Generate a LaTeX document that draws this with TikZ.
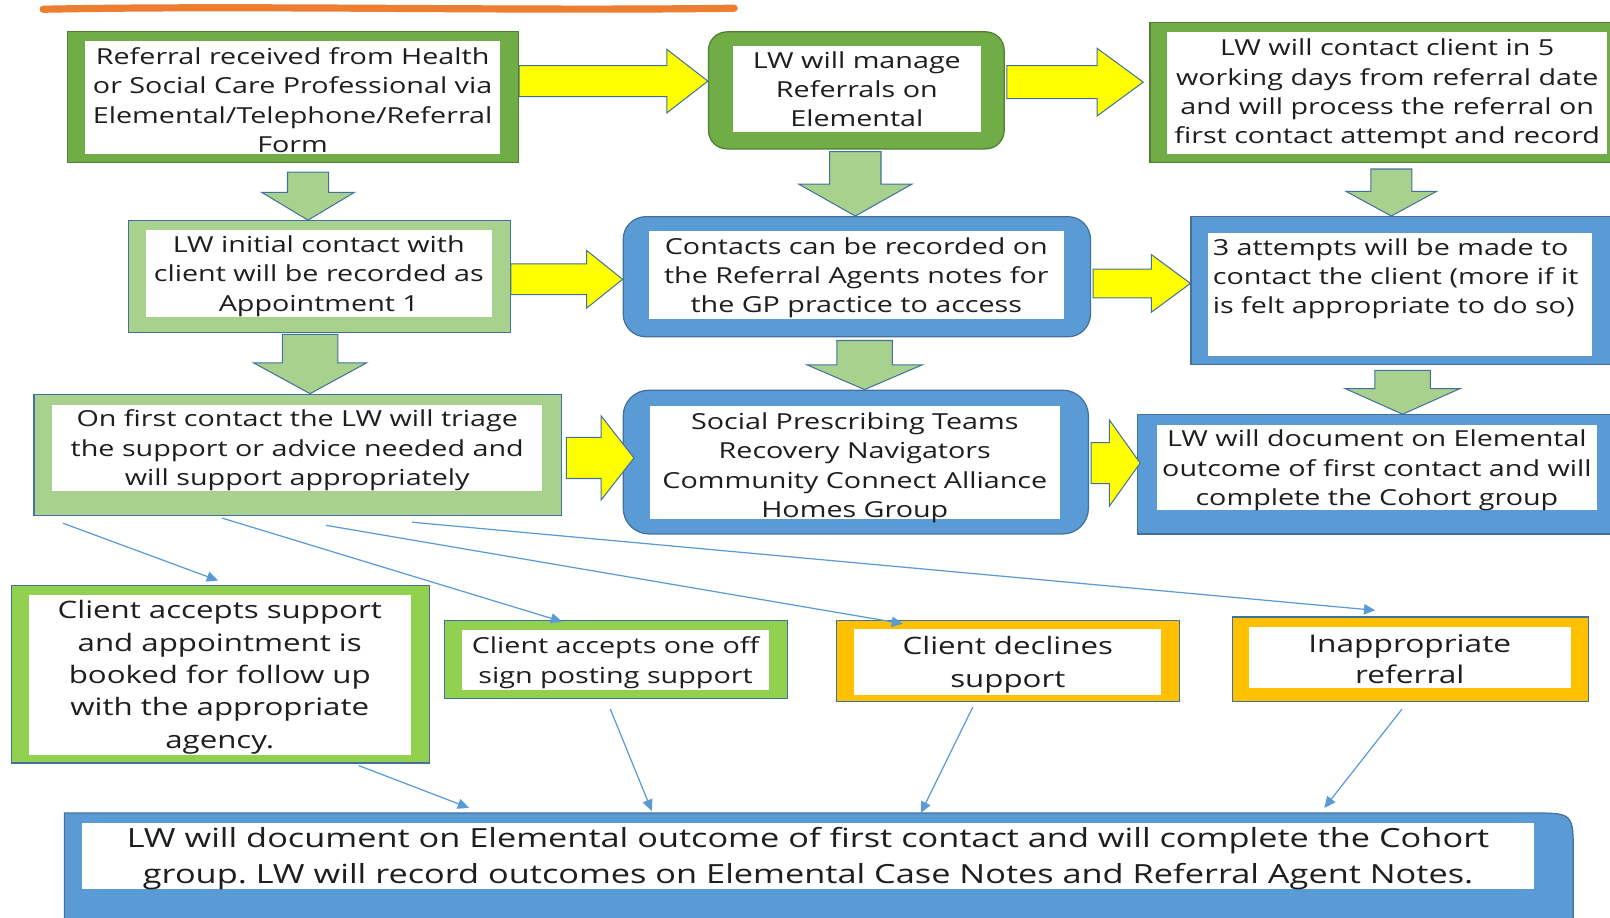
\documentclass[tikz,border=0pt]{standalone}
\usepackage{fontspec}
\setmainfont[FakeStretch=1.3]{Open Sans}
\usepackage{tikz}
\usetikzlibrary{arrows.meta,calc,positioning}
\definecolor{lwgreen}{HTML}{70AD47}
\definecolor{lwdkgreen}{HTML}{507E32}
\definecolor{lwlight}{HTML}{A9D18E}
\definecolor{lwblue}{HTML}{5B9BD5}
\definecolor{lwedge}{HTML}{41719C}
\definecolor{lwlime}{HTML}{92D050}
\definecolor{lwgold}{HTML}{FFC000}
\definecolor{lworange}{HTML}{ED7D31}
\definecolor{lwyellow}{HTML}{FFFF00}
\definecolor{lwtext}{HTML}{1E1E1E}
\tikzset{%
	darkbox/.style  = {draw=lwdkgreen, fill=lwgreen, line width=1.2pt, inner sep=0pt},
	lightbox/.style = {draw=lwedge, fill=lwlight, line width=1.2pt, inner sep=0pt},
	bluebox/.style  = {draw=lwedge, fill=lwblue, line width=1.2pt, inner sep=0pt},
	limebox/.style  = {draw=lwedge, fill=lwlime, line width=1.2pt, inner sep=0pt},
	goldbox/.style  = {draw=lwedge, fill=lwgold, line width=1.2pt, inner sep=0pt},
	inbox/.style    = {fill=white, inner sep=0pt},
	txt/.style      = {inner sep=0pt, align=center, text=lwtext, yshift=-2.5, font=\fontsize{21.5}{28.5}\selectfont},
	yarrow/.style   = {draw=lwedge, fill=lwyellow, line width=1pt},
	garrow/.style   = {draw=lwedge, fill=lwlight, line width=1pt},
	conn/.style     = {draw=lwblue, line width=1.2pt, -{Triangle[length=11pt,width=10pt]}},
}
% block arrows: tail, tip, shaft half width, head half width, head length
\newcommand{\rblock}[5]{%
	\draw[yarrow] let \p1=#1, \p2=#2 in (\x1,\y1+#3) -- (\x2-#5,\y1+#3) -- (\x2-#5,\y1+#4) -- (\x2,\y1) -- (\x2-#5,\y1-#4) -- (\x2-#5,\y1-#3) -- (\x1,\y1-#3) -- cycle;}
\newcommand{\dblock}[5]{%
	\draw[garrow] let \p1=#1, \p2=#2 in (\x1-#3,\y1) -- (\x1-#3,\y2+#5) -- (\x1-#4,\y2+#5) -- (\x1,\y2) -- (\x1+#4,\y2+#5) -- (\x1+#3,\y2+#5) -- (\x1+#3,\y1) -- cycle;}
\frenchspacing

\begin{document}
\begin{tikzpicture}[x=1pt,y=-1pt]
		\useasboundingbox (0,0) rectangle (1568,894);
		\clip (0,0) rectangle (1568,894);
		
		% title underline
		\draw[lworange, line width=7pt, line cap=round] (42,9) .. controls (250,5) and (500,11) .. (715,8);
		
		% first row
		\node[darkbox, minimum width=439, minimum height=127] (ref) at (285.5,94.5) {};
		\node[inbox, minimum width=404, minimum height=110, label={[txt, name=ref-t]center:{Referral received from Health\\or Social Care Professional via\\Elemental/Telephone/Referral\\Form}}] (ref-in) at (285,95) {};
		\node[darkbox, rounded corners=18, minimum width=288, minimum height=114] (manage) at (834,88) {};
		\node[inbox, minimum width=241, minimum height=84, label={[txt, yshift=2.5, name=manage-t]center:{LW will manage\\Referrals on\\Elemental}}] (manage-in) at (834.5,87) {};
		\node[darkbox, minimum width=460, minimum height=136] (contact) at (1350,90) {};
		\node[inbox, minimum width=428, minimum height=119, label={[txt, yshift=1.5, name=contact-t]center:{LW will contact client in 5\\working days from referral date\\and will process the referral on\\first contact attempt and record}}] (contact-in) at (1351,90.5) {};
		
		% second row
		\node[lightbox, minimum width=372, minimum height=109] (initial) at (311,269.5) {};
		\node[inbox, minimum width=337, minimum height=85, label={[txt, name=initial-t]center:{LW initial contact with\\client will be recorded as\\Appointment 1}}] (initial-in) at (310.5,266.5) {};
		\node[bluebox, rounded corners=22, minimum width=455, minimum height=117] (notes) at (834.5,269.5) {};
		\node[inbox, minimum width=404, minimum height=86, label={[txt, name=notes-t]center:{Contacts can be recorded on\\the Referral Agents notes for\\the GP practice to access}}] (notes-in) at (834,268) {};
		\node[bluebox, minimum width=420, minimum height=144] (attempts) at (1370,283) {};
		\node[inbox, minimum width=374, minimum height=120] (attempts-in) at (1363,287) {};
		\node[txt, align=left, anchor=north west, yshift=2.5] (attempts-t) at (1181,232) {3 attempts will be made to\\contact the client (more if it\\is felt appropriate to do so)};
		
		% third row
		\node[lightbox, minimum width=514, minimum height=118] (triage) at (290,443) {};
		\node[inbox, minimum width=477, minimum height=84, label={[txt, name=triage-t]center:{On first contact the LW will triage\\the support or advice needed and\\will support appropriately}}] (triage-in) at (289.5,436) {};
		\node[bluebox, rounded corners=25, minimum width=453, minimum height=140] (teams) at (833.5,450) {};
		\node[inbox, minimum width=399, minimum height=110, label={[txt, yshift=-3, name=teams-t]center:{Social Prescribing Teams\\Recovery Navigators\\Community Connect Alliance\\Homes Group}}] (teams-in) at (832.5,450) {};
		\node[bluebox, minimum width=472, minimum height=116] (document) at (1344,462) {};
		\node[inbox, minimum width=428, minimum height=83, label={[txt, name=document-t]center:{LW will document on Elemental\\outcome of first contact and will\\complete the Cohort group}}] (document-in) at (1341,455.5) {};
		
		% outcomes
		\node[limebox, minimum width=407, minimum height=173] (accept) at (214.5,656.5) {};
		\node[inbox, minimum width=372, minimum height=156, label={[txt, font=\fontsize{23.4}{31.5}\selectfont, name=accept-t]center:{Client accepts support\\and appointment is\\booked for follow up\\with the appropriate\\agency.}}] (accept-in) at (214,657) {};
		\node[limebox, minimum width=334, minimum height=76] (signpost) at (600,642) {};
		\node[inbox, minimum width=299, minimum height=58, label={[txt, font=\fontsize{21.5}{30}\selectfont, name=signpost-t]center:{Client accepts one off\\sign posting support}}] (signpost-in) at (599.5,643) {};
		\node[goldbox, minimum width=334, minimum height=79] (decline) at (982,643.5) {};
		\node[inbox, minimum width=299, minimum height=64, label={[txt, font=\fontsize{23.4}{32}\selectfont, name=decline-t]center:{Client declines\\support}}] (decline-in) at (981.5,645) {};
		\node[goldbox, minimum width=347, minimum height=82] (inapprop) at (1373.5,642) {};
		\node[inbox, minimum width=314, minimum height=59, label={[txt, font=\fontsize{23.7}{30}\selectfont, yshift=1, name=inapprop-t]center:{Inappropriate\\referral}}] (inapprop-in) at (1373,640.5) {};
		
		% bottom box
		\node[minimum width=1469, minimum height=118, inner sep=0pt] (outcome) at (797.5,851) {};
		\draw[bluebox] (outcome.south west) -- (outcome.north west) -- ([xshift=-40]outcome.north east) .. controls (outcome.north east) .. ([yshift=-40]outcome.north east) -- (outcome.south east) -- cycle;
		\node[inbox, minimum width=1414, minimum height=64, label={[txt, font=\fontsize{25.7}{35}\selectfont, name=outcome-t]center:{LW will document on Elemental outcome of first contact and will complete the Cohort\\group. LW will record outcomes on Elemental Case Notes and Referral Agent Notes.}}] (outcome-in) at (787,834) {};
		
		% yellow arrows
		\rblock{(ref.east |- 0,79)}{(manage.west |- 0,79)}{15}{31}{40}
		\rblock{($(manage.east |- 0,80)+(2,0)$)}{($(contact.west |- 0,80)+(-6,0)$)}{16}{33}{45}
		\rblock{(initial.east |- 0,272)}{(notes.west |- 0,272)}{15}{28}{35}
		\rblock{($(notes.east |- 0,276)+(2,0)$)}{(attempts.west |- 0,276)}{14}{28}{38}
		\rblock{($(triage.east |- 0,446)+(4,0)$)}{($(teams.west |- 0,446)+(11,0)$)}{20}{41}{32}
		\rblock{($(teams.east |- 0,451)+(2,0)$)}{($(document.west |- 0,451)+(3,0)$)}{20}{42}{30}
		
		% green arrows
		\dblock{($(ref.south -| 300,0)+(0,9)$)}{(initial.north -| 300,0)}{20}{45}{27}
		\dblock{($(manage.south -| 833,0)+(0,2)$)}{(notes.north -| 833,0)}{25}{55}{31}
		\dblock{($(contact.south -| 1355,0)+(0,6)$)}{(attempts.north -| 1355,0)}{20}{44}{24}
		\dblock{($(initial.south -| 302,0)+(0,1)$)}{(triage.north -| 302,0)}{27}{55}{30}
		\dblock{($(notes.south -| 842,0)+(0,3)$)}{(teams.north -| 842,0)}{27}{56}{24}
		\dblock{($(attempts.south -| 1366,0)+(0,5)$)}{(document.north -| 1366,0)}{27}{56}{25}
		
		% thin connectors
		\foreach \sx/\sy/\tgt/\tx/\ty in {29/-7/accept/202/4, 184/-2/signpost/115/-2, 285/-9/decline/65/-4, 369/-6/inapprop/140/6}
			\draw[conn] ([xshift=\sx,yshift=\sy]triage.south west) -- ([xshift=\tx,yshift=\ty]\tgt.north west);
		\foreach \src/\sx/\sy/\tx/\ty in {accept/339/-2/394/5, signpost/162/-10/572/2, decline/133/-5/834/0, inapprop/166/-7/1227/5}
			\draw[conn] ([xshift=\sx,yshift=\sy]\src.south west) -- ([xshift=\tx,yshift=\ty]outcome.north west);
		
\end{tikzpicture}
\end{document}
